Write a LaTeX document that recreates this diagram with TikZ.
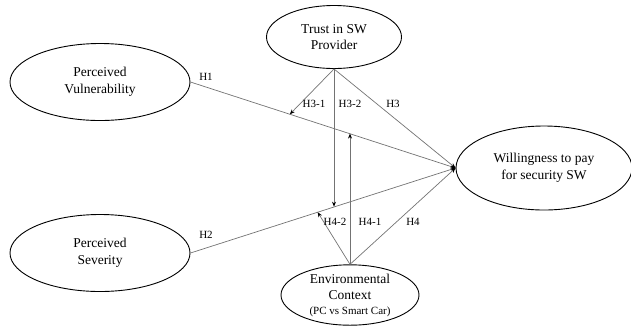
\documentclass[tikz,border=0pt]{standalone}
\usepackage{fontspec}
\setmainfont{Liberation Serif}
\usetikzlibrary{shapes.geometric,calc,arrows.meta}
\begin{document}
\begin{tikzpicture}[x=1pt,y=-1pt,
  construct/.style={ellipse,draw=black,line width=0.9pt,inner sep=0pt,align=center,font=\fontsize{13.5}{16.5}\selectfont},
  path/.style={draw=black!55,line width=0.7pt},
  arr/.style={path,-{Stealth[length=5pt,width=4pt,black]}},
  hlab/.style={font=\fontsize{11}{13}\selectfont}]
\useasboundingbox (0,0) rectangle (631,325);
\node[construct,minimum width=180,minimum height=77] (PV) at (100,82) {Perceived\\Vulnerability};
\node[construct,minimum width=180,minimum height=77] (PS) at (100,253) {Perceived\\Severity};
\node[construct,minimum width=135,minimum height=63] (T) at (334,37) {Trust in SW\\Provider};
\node[construct,minimum width=176,minimum height=84] (W) at (544,168) {Willingness to pay\\for security SW};
\node[construct,minimum width=138,minimum height=60] (E) at (350,295) {Environmental\\Context\\[-2pt]{\fontsize{11}{13}\selectfont (PC vs Smart Car)}};
\draw[arr] (PV.east) -- (W.west);
\draw[arr] (PS.east) -- (W.west);
\draw[arr] (T.south) -- (W.west);
\draw[arr] (E.north) -- (W.west);
\coordinate (a31) at ($(PV.east)!0.375!(W.west)$);
\coordinate (a41) at (E.north |- {$(PV.east)!0.6!(W.west)$});
\coordinate (a32) at (T.south |- {$(PS.east)!0.545!(W.west)$});
\coordinate (a42) at ($(PS.east)!0.48!(W.west)$);
\draw[arr] (T.south) -- (a31);
\draw[arr] (T.south) -- (a32);
\draw[arr] (E.north) -- (a41);
\draw[arr] (E.north) -- (a42);
\node[hlab] (l1) at (206,77) {H1};
\node[hlab] (l2) at (206,235) {H2};
\node[hlab] (l31) at (314,104) {H3-1};
\node[hlab] (l32) at (350,104) {H3-2};
\node[hlab] (l3) at (393,104) {H3};
\node[hlab] (l42) at (335,222) {H4-2};
\node[hlab] (l41) at (370,222) {H4-1};
\node[hlab] (l4) at (413,222) {H4};
\end{tikzpicture}
\end{document}
